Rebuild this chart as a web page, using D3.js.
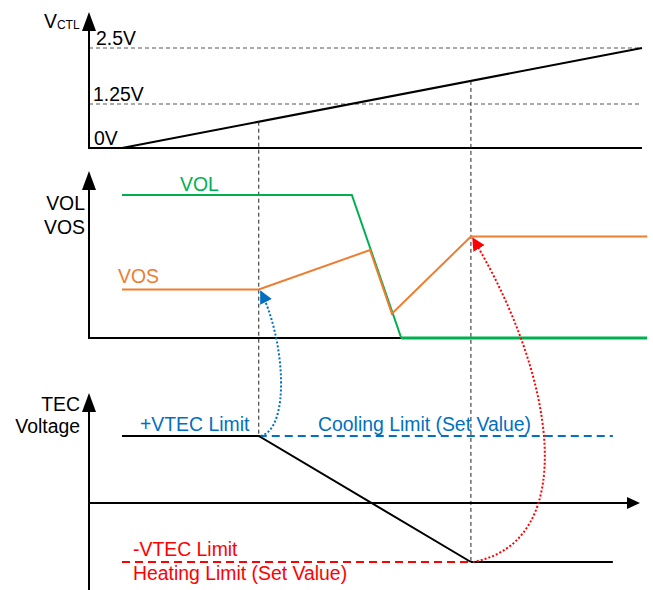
<!DOCTYPE html>
<html>
<head>
<meta charset="utf-8">
<script src="https://cdn.jsdelivr.net/npm/d3@7"></script>
<style>
  body { margin: 0; background: #fff; }
  text { font-family: Arial, "Liberation Sans", sans-serif; }
</style>
</head>
<body>
<div id="chart"></div>
<script>
// time axis runs 0..100 over the V_CTL ramp
let rampT = [0, 100];
let rampV = [0, 2.5];
let ctlLevels = [0, 1.25, 2.5];
let ctlLabels = ["0V", "1.25V", "2.5V"];

// events (time) where the dashed verticals drop
let markT = [26.3, 67.1];

// VOL / VOS panel (arbitrary units)
let volT = [0, 44.2, 53.7, 101];
let volV = [10, 10, 0, 0];
let vosT = [0, 26.3, 47.7, 51.9, 67.1, 101];
let vosV = [3.4, 3.4, 6.15, 1.7, 7.1, 7.1];

// TEC voltage panel (-1 = heating limit, +1 = cooling limit)
let tecT = [0, 26.3, 67.1, 94.4];
let tecV = [1, 1, -1, -1];

let plotWidth = 653;
let plotHeight = 590;
let fs = "19.4px";

let svg = d3.select("#chart").append("svg")
    .attr("width", plotWidth)
    .attr("height", plotHeight);

let defs = svg.append("defs");
function addMarker(id, color) {
    defs.append("marker")
        .attr("id", id)
        .attr("viewBox", "0 0 10 10")
        .attr("refX", 9).attr("refY", 5)
        .attr("markerWidth", 6.5).attr("markerHeight", 6.5)
        .attr("markerUnits", "strokeWidth")
        .attr("orient", "auto")
        .append("path")
        .attr("d", "M0,0 L10,5 L0,10 Z")
        .attr("fill", color);
}
addMarker("arrBlue", "#0070C0");
addMarker("arrRed", "#FF0000");

let axisX = 89;
let xScale = d3.scaleLinear().domain([0, 100]).range([122, 642]);

// scales per panel (hand-drawn diagram, so piecewise)
let yTop = d3.scaleLinear().domain([0, 1.25, 2.5]).range([148, 104, 48]);
let yMid = d3.scaleLinear().domain([0, 10]).range([338, 195]);
let yBot = d3.scaleLinear().domain([-1, 0, 1]).range([562, 503, 436]);

let line = (xs, ys, sy) => d3.line()(xs.map((t, i) => [xScale(t), sy(ys[i])]));

function upArrow(x, tip) {
    svg.append("path")
        .attr("d", `M${x},${tip} L${x - 7},${tip + 19} L${x + 7},${tip + 19} Z`)
        .attr("fill", "#000");
}

// ---------- top panel ----------
let topG = svg.append("g");
topG.selectAll("line.lvl")
    .data(ctlLevels.slice(1))
    .enter().append("line")
    .attr("x1", axisX).attr("x2", xScale(100))
    .attr("y1", d => yTop(d)).attr("y2", d => yTop(d))
    .attr("stroke", "#555").attr("stroke-width", 1)
    .attr("stroke-dasharray", "4,3");

topG.append("line")
    .attr("x1", axisX).attr("x2", xScale(100))
    .attr("y1", yTop(0)).attr("y2", yTop(0))
    .attr("stroke", "#000").attr("stroke-width", 2);

topG.append("path")
    .attr("d", line(rampT, rampV, yTop))
    .attr("fill", "none").attr("stroke", "#000").attr("stroke-width", 2);

topG.selectAll("text.lvl")
    .data(ctlLabels)
    .enter().append("text")
    .attr("x", (d, i) => i == 0 ? 94 : (i == 1 ? 93 : 96))
    .attr("y", (d, i) => yTop(ctlLevels[i]) - 3)
    .attr("font-size", fs)
    .text(d => d);

let vctl = svg.append("text").attr("x", 44).attr("y", 28).attr("font-size", fs);
vctl.append("tspan").text("V");
vctl.append("tspan").attr("font-size", "12px").attr("dy", 1).text("CTL");

svg.append("line").attr("x1", axisX).attr("x2", axisX)
    .attr("y1", 26).attr("y2", yTop(0) + 1)
    .attr("stroke", "#000").attr("stroke-width", 2);
upArrow(axisX, 12);

// ---------- vertical dashed markers ----------
let markBottom = [yBot(1), yBot(-1)];
svg.selectAll("line.mark")
    .data(markT)
    .enter().append("line")
    .attr("x1", d => xScale(d)).attr("x2", d => xScale(d))
    .attr("y1", d => {
        // ramp is straight in pixels between its end points
        let p0 = yTop(rampV[0]), p1 = yTop(rampV[1]);
        return p0 + (p1 - p0) * d / 100;
    })
    .attr("y2", (d, i) => markBottom[i])
    .attr("stroke", "#222").attr("stroke-width", 1)
    .attr("stroke-dasharray", "4,3");

// ---------- middle panel ----------
svg.append("line").attr("x1", axisX).attr("x2", xScale(volT[2]))
    .attr("y1", yMid(0)).attr("y2", yMid(0))
    .attr("stroke", "#000").attr("stroke-width", 2);
svg.append("line").attr("x1", axisX).attr("x2", axisX)
    .attr("y1", 186).attr("y2", yMid(0) + 1)
    .attr("stroke", "#000").attr("stroke-width", 2);
upArrow(axisX, 171);

svg.append("path")
    .attr("d", line(volT.slice(0, 3), volV.slice(0, 3), yMid))
    .attr("fill", "none").attr("stroke", "#00B050").attr("stroke-width", 2);
svg.append("path")
    .attr("d", line(volT.slice(2), volV.slice(2), yMid))
    .attr("fill", "none").attr("stroke", "#00B050").attr("stroke-width", 3);
svg.append("path")
    .attr("d", line(vosT, vosV, yMid))
    .attr("fill", "none").attr("stroke", "#ED7D31").attr("stroke-width", 2);

svg.append("text").attr("x", 180).attr("y", 191).attr("font-size", fs)
    .attr("fill", "#00B050").text("VOL");
svg.append("text").attr("x", 118).attr("y", 283).attr("font-size", fs)
    .attr("fill", "#ED7D31").text("VOS");
svg.append("text").attr("x", 85).attr("y", 210).attr("font-size", fs)
    .attr("text-anchor", "end").text("VOL");
svg.append("text").attr("x", 85).attr("y", 234).attr("font-size", fs)
    .attr("text-anchor", "end").text("VOS");

// ---------- bottom panel ----------
svg.append("line").attr("x1", axisX).attr("x2", axisX)
    .attr("y1", 408).attr("y2", 590)
    .attr("stroke", "#000").attr("stroke-width", 2);
upArrow(axisX, 393);
svg.append("line").attr("x1", axisX).attr("x2", 630)
    .attr("y1", yBot(0)).attr("y2", yBot(0))
    .attr("stroke", "#000").attr("stroke-width", 2);
svg.append("path")
    .attr("d", `M640,${yBot(0)} L627,${yBot(0) - 6} L627,${yBot(0) + 6} Z`)
    .attr("fill", "#000");

// limits
svg.append("line").attr("x1", xScale(tecT[1])).attr("x2", xScale(tecT[3]))
    .attr("y1", yBot(1)).attr("y2", yBot(1))
    .attr("stroke", "#0070C0").attr("stroke-width", 2).attr("stroke-dasharray", "8,5");
svg.append("line").attr("x1", xScale(tecT[0])).attr("x2", xScale(tecT[2]))
    .attr("y1", yBot(-1)).attr("y2", yBot(-1))
    .attr("stroke", "#FF0000").attr("stroke-width", 2).attr("stroke-dasharray", "8,5");

svg.append("path")
    .attr("d", line(tecT.slice(0, 3), tecV.slice(0, 3), yBot))
    .attr("fill", "none").attr("stroke", "#000").attr("stroke-width", 2);
svg.append("path")
    .attr("d", line(tecT.slice(2), tecV.slice(2), yBot))
    .attr("fill", "none").attr("stroke", "#000").attr("stroke-width", 2);

svg.append("text").attr("x", 80).attr("y", 411).attr("font-size", fs)
    .attr("text-anchor", "end").text("TEC");
svg.append("text").attr("x", 80).attr("y", 433).attr("font-size", fs)
    .attr("text-anchor", "end").text("Voltage");
svg.append("text").attr("x", 140).attr("y", 431).attr("font-size", fs)
    .attr("fill", "#0070C0").text("+VTEC Limit");
svg.append("text").attr("x", 318).attr("y", 431).attr("font-size", fs)
    .attr("fill", "#0070C0").text("Cooling Limit (Set Value)");
svg.append("text").attr("x", 133).attr("y", 556).attr("font-size", fs)
    .attr("fill", "#FF0000").text("-VTEC Limit");
svg.append("text").attr("x", 133).attr("y", 580).attr("font-size", fs)
    .attr("fill", "#FF0000").text("Heating Limit (Set Value)");

// ---------- curved dotted arrows ----------
let bx = xScale(markT[0]), rx = xScale(markT[1]);
let bTop = yMid(vosV[1]), rTop = yMid(vosV[4]);
svg.append("path")
    .attr("d", `M${bx + 2},${yBot(1)} C${bx + 32},${yBot(1) - 8} ${bx + 26},${bTop + 50} ${bx + 2},${bTop + 2}`)
    .attr("fill", "none").attr("stroke", "#0070C0").attr("stroke-width", 2)
    .attr("stroke-dasharray", "2,2").attr("marker-end", "url(#arrBlue)");
svg.append("path")
    .attr("d", `M${rx + 2},${yBot(-1)} C${rx + 110},${yBot(-1) - 20} ${rx + 85},${rTop + 140} ${rx + 2},${rTop + 2}`)
    .attr("fill", "none").attr("stroke", "#FF0000").attr("stroke-width", 2)
    .attr("stroke-dasharray", "2,2").attr("marker-end", "url(#arrRed)");
</script>
</body>
</html>
